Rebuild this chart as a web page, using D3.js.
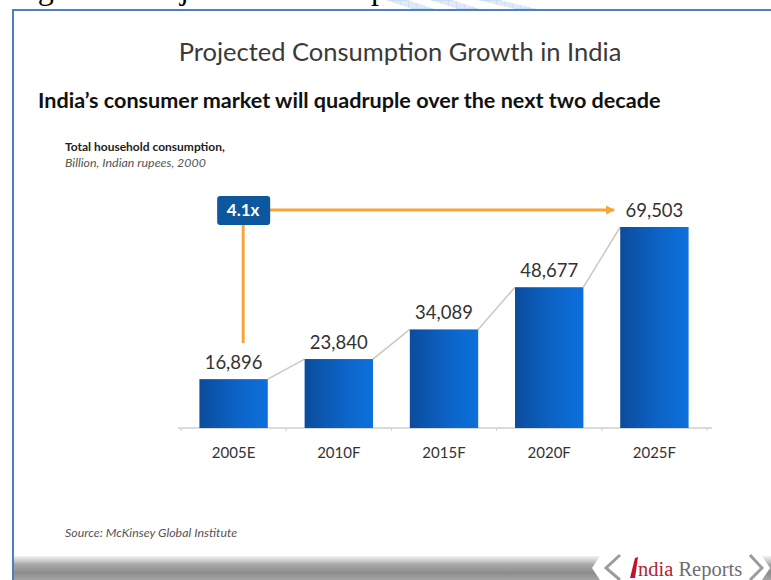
<!DOCTYPE html>
<html>
<head>
<meta charset="utf-8">
<script src="https://cdn.jsdelivr.net/npm/d3@7"></script>
<style>
  html, body { margin: 0; padding: 0; background: #fff; }
  svg { display: block; }
</style>
</head>
<body>
<svg id="chart" width="771" height="580"></svg>
<script>
// Consumption values, billion Indian rupees (2000 prices)
const categories = ["2005E", "2010F", "2015F", "2020F", "2025F"];
const consumption = [16896, 23840, 34089, 48677, 69503];
const valueLabels = ["16,896", "23,840", "34,089", "48,677", "69,503"];
const growthLabel = "4.1x";

const svg = d3.select("#chart");
const W = 771, H = 580;
const sans = "Lato, 'Open Sans', sans-serif";

// gradients
const defs = svg.append("defs");
const barGrad = defs.append("linearGradient").attr("id", "barGrad")
  .attr("x1", 0).attr("x2", 1).attr("y1", 0).attr("y2", 0);
barGrad.append("stop").attr("offset", 0).attr("stop-color", "#0b4c9c");
barGrad.append("stop").attr("offset", 0.55).attr("stop-color", "#0c63c6");
barGrad.append("stop").attr("offset", 1).attr("stop-color", "#0d70dc");

const bandGrad = defs.append("linearGradient").attr("id", "bandGrad")
  .attr("x1", 0).attr("x2", 0).attr("y1", 0).attr("y2", 1);
bandGrad.append("stop").attr("offset", 0).attr("stop-color", "#f2f2f2");
bandGrad.append("stop").attr("offset", 0.18).attr("stop-color", "#d0d0d0");
bandGrad.append("stop").attr("offset", 0.35).attr("stop-color", "#a9a9a9");
bandGrad.append("stop").attr("offset", 0.7).attr("stop-color", "#8c8c8c");
bandGrad.append("stop").attr("offset", 1).attr("stop-color", "#a5a5a5");

const hatch = defs.append("pattern").attr("id", "hatch")
  .attr("width", 8).attr("height", 8).attr("patternUnits", "userSpaceOnUse");
hatch.append("rect").attr("width", 8).attr("height", 8).attr("fill", "#dbe7f6");
hatch.append("path").attr("d", "M0,0H8M0,0V8").attr("stroke", "#b9cfec").attr("stroke-width", 1);

const arrowHead = defs.append("marker").attr("id", "arrow")
  .attr("viewBox", "0 0 10 10").attr("refX", 9).attr("refY", 5)
  .attr("markerWidth", 3.2).attr("markerHeight", 3.2).attr("orient", "auto");
arrowHead.append("path").attr("d", "M0,0L10,5L0,10Z").attr("fill", "#f5a73a");

// document caption above the frame
svg.append("text")
  .attr("x", 11).attr("y", -1)
  .attr("font-family", "'Liberation Serif', 'Times New Roman', serif")
  .attr("font-size", 32).attr("fill", "#000")
  .text("Figure 3: Projected Consumption Growth in India");

// faint watermark shapes at the top edge
[[386, 440], [430, 486], [478, 545]].forEach(([a, b]) => {
  svg.append("path")
    .attr("d", `M${a},0L${a + 22},0L${b},11L${b - 22},11Z`)
    .attr("fill", "url(#hatch)").attr("opacity", 0.9);
});

// frame lines
svg.append("line").attr("x1", 12).attr("x2", W).attr("y1", 10).attr("y2", 10)
  .attr("stroke", "#4f7fbd").attr("stroke-width", 2);
svg.append("line").attr("x1", 13).attr("x2", 13).attr("y1", 10).attr("y2", H)
  .attr("stroke", "#4f7fbd").attr("stroke-width", 2);

// titles
svg.append("text").attr("x", 400).attr("y", 61).attr("text-anchor", "middle")
  .attr("font-family", sans).attr("font-size", 25.5).attr("fill", "#3a3a3a")
  .text("Projected Consumption Growth in India");

svg.append("text").attr("x", 38).attr("y", 108)
  .attr("font-family", sans).attr("font-weight", "bold").attr("font-size", 21.6).attr("fill", "#111")
  .text("India\u2019s consumer market will quadruple over the next two decade");

svg.append("text").attr("x", 65).attr("y", 151)
  .attr("font-family", sans).attr("font-weight", "bold").attr("font-size", 12).attr("fill", "#222")
  .text("Total household  consumption,");
svg.append("text").attr("x", 65).attr("y", 167)
  .attr("font-family", sans).attr("font-style", "italic").attr("font-size", 12.4).attr("fill", "#555")
  .text("Billion, Indian rupees,  2000");

// scales
const x = d3.scaleBand().domain(categories).range([181, 707])
  .paddingInner(0.35).paddingOuter(0.175);
const y = d3.scaleLinear().domain([0, d3.max(consumption)]).range([428, 227]);

const data = categories.map((c, i) => ({ cat: c, v: consumption[i], label: valueLabels[i] }));

// baseline axis
const axis = svg.append("g").attr("transform", "translate(0,428)")
  .call(d3.axisBottom(x).tickSize(0).tickFormat(""));
axis.select(".domain").attr("stroke", "#cfcfcf").attr("stroke-width", 1.5)
  .attr("d", "M178,0H712");
// small separators between categories
const seps = d3.range(categories.length + 1).map(i => x.range()[0] + i * x.step());
axis.selectAll(".sep").data(seps).enter().append("line")
  .attr("x1", d => d).attr("x2", d => d).attr("y1", 0).attr("y2", 3)
  .attr("stroke", "#cfcfcf");

// connectors between bar tops
const conn = svg.append("g");
data.slice(0, -1).forEach((d, i) => {
  const n = data[i + 1];
  conn.append("line")
    .attr("x1", x(d.cat) + x.bandwidth()).attr("y1", y(d.v))
    .attr("x2", x(n.cat)).attr("y2", y(n.v))
    .attr("stroke", "#cfc7bf").attr("stroke-width", 1.5);
});

// bars
svg.append("g").selectAll("rect").data(data).enter().append("rect")
  .attr("x", d => x(d.cat)).attr("width", x.bandwidth())
  .attr("y", d => y(d.v)).attr("height", d => y(0) - y(d.v))
  .attr("fill", "url(#barGrad)");

// value labels
svg.append("g").selectAll("text").data(data).enter().append("text")
  .attr("x", d => x(d.cat) + x.bandwidth() / 2).attr("y", d => y(d.v) - 10)
  .attr("text-anchor", "middle").attr("font-family", sans).attr("font-size", 18.5)
  .attr("fill", "#333").text(d => d.label);

// category labels
svg.append("g").selectAll("text").data(data).enter().append("text")
  .attr("x", d => x(d.cat) + x.bandwidth() / 2).attr("y", 458)
  .attr("text-anchor", "middle").attr("font-family", sans).attr("font-size", 15)
  .attr("fill", "#333").text(d => d.cat);

// growth annotation
const first = data[0], last = data[data.length - 1];
const ax = x(first.cat) + x.bandwidth() * 0.64;
const ay = 210;
const orange = "#f5a73a";
svg.append("line").attr("x1", ax).attr("x2", ax)
  .attr("y1", ay).attr("y2", y(first.v) - 36)
  .attr("stroke", orange).attr("stroke-width", 3);
svg.append("line").attr("x1", ax).attr("x2", x(last.cat) - 6)
  .attr("y1", ay).attr("y2", ay)
  .attr("stroke", orange).attr("stroke-width", 3)
  .attr("marker-end", "url(#arrow)");
svg.append("rect").attr("x", ax - 26).attr("y", ay - 14).attr("width", 53).attr("height", 29)
  .attr("rx", 3).attr("fill", "#0d579f");
svg.append("text").attr("x", ax).attr("y", ay + 6).attr("text-anchor", "middle")
  .attr("font-family", sans).attr("font-weight", "bold").attr("font-size", 17)
  .attr("fill", "#fff").text(growthLabel);

// source note
svg.append("text").attr("x", 65).attr("y", 537)
  .attr("font-family", sans).attr("font-style", "italic").attr("font-size", 12.4)
  .attr("fill", "#555").text("Source: McKinsey Global Institute");

// footer band with logo
svg.append("path").attr("d", "M14,556H600L592,568L600,580H14Z").attr("fill", "url(#bandGrad)");
svg.append("path").attr("d", "M762,556H771V580H762L770,568Z").attr("fill", "url(#bandGrad)");
svg.append("path").attr("d", "M620,555L606,568L620,580").attr("fill", "none")
  .attr("stroke", "#9c9c9c").attr("stroke-width", 3);
svg.append("path").attr("d", "M750,555L762,568L750,580").attr("fill", "none")
  .attr("stroke", "#9c9c9c").attr("stroke-width", 3);
svg.append("path").attr("d", "M630,578L635,558L638,557L635,578Z").attr("fill", "#c8102e");
const logo = svg.append("text").attr("x", 638).attr("y", 576)
  .attr("font-family", "'Liberation Serif', serif").attr("font-size", 20.5);
logo.append("tspan").attr("fill", "#b5232e").text("ndia");
logo.append("tspan").attr("fill", "#6e6e6e").text(" Reports");
</script>
</body>
</html>
